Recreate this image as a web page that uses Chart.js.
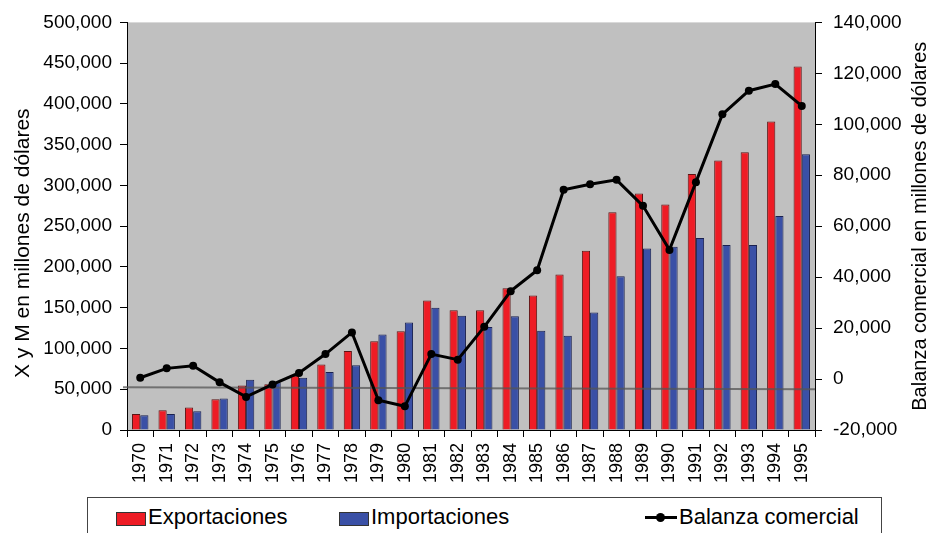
<!DOCTYPE html>
<html>
<head>
<meta charset="utf-8">
<script src="https://cdn.jsdelivr.net/npm/chart.js@4"></script>
<style>
  html, body { margin: 0; padding: 0; background: #fff; overflow: hidden; }
  #wrap { position: relative; width: 931px; height: 533px; }
  #legend {
    position: absolute; left: 87px; top: 497px; width: 795px; height: 60px;
    border: 1px solid #444; background: #fff; box-sizing: border-box;
    font-family: "Liberation Sans", Arial, sans-serif; font-size: 22px; color: #000;
  }
  .item { position: absolute; top: 7px; line-height: 24px; white-space: nowrap; }
  .sw { position: absolute; width: 28px; height: 12px; border: 1px solid #333; }
  .ln { position: absolute; width: 32px; height: 3px; background: #000; }
  .dot { position: absolute; width: 9px; height: 9px; border-radius: 50%; background: #000; }
</style>
</head>
<body>
<div id="wrap">
  <canvas id="chart" width="931" height="533"></canvas>
  <div id="legend">
    <div class="sw" style="left:28px;top:14px;background:#ee1c25;"></div>
    <div class="item" style="left:60px;">Exportaciones</div>
    <div class="sw" style="left:251px;top:14px;background:#3a50a6;"></div>
    <div class="item" style="left:283px;">Importaciones</div>
    <div class="ln" style="left:557px;top:18px;"></div>
    <div class="dot" style="left:568px;top:15px;"></div>
    <div class="item" style="left:591px;">Balanza comercial</div>
  </div>
</div>
<script>
// Mexican foreign trade, millions of US dollars
const years = ['1970','1971','1972','1973','1974','1975','1976','1977','1978','1979','1980','1981','1982',
               '1983','1984','1985','1986','1987','1988','1989','1990','1991','1992','1993','1994','1995'];

const exportaciones = [19500, 24300, 27600, 37700, 54700, 56000, 66500, 80500, 97000, 109000, 121000, 159000, 147000,
                       147000, 174000, 165000, 190600, 220000, 267000, 290000, 276500, 314000, 330500, 340600, 378500, 446000];

const importaciones = [18200, 19500, 23000, 38500, 61700, 58500, 64000, 71000, 79500, 117000, 132000, 150000, 140000,
                       126500, 139500, 121600, 115600, 144000, 188500, 222600, 224700, 235600, 227000, 227000, 262400, 338400];

const balanza = [500, 4200, 5200, -1300, -7000, -2100, 2400, 9800, 18300, -8300, -10700, 9800, 7600,
                 20500, 34500, 42700, 74300, 76500, 78200, 68000, 50700, 77300, 103900, 113200, 115800, 107200];

// thin grey guide line across the plot (left-axis values at its two ends)
const guideLine = [52500, 50000];

const leftTicks = { min: 0, max: 500000, step: 50000 };
const rightTicks = { min: -20000, max: 140000, step: 20000 };

const FONT = '"Liberation Sans", Arial, sans-serif';
const fmt = v => Number(v).toLocaleString('en-US');

const plotBackground = {
  id: 'plotBackground',
  beforeDraw(chart) {
    const { ctx, chartArea: a } = chart;
    ctx.save();
    ctx.fillStyle = '#c0c0c0';
    ctx.fillRect(a.left, a.top, a.right - a.left, a.bottom - a.top);
    ctx.restore();
  }
};

const guide = {
  id: 'guide',
  beforeDatasetDraw(chart, args) {
    if (args.index !== 2) return;
    const { ctx, chartArea: a, scales } = chart;
    ctx.save();
    ctx.strokeStyle = 'rgba(85,85,85,0.75)';
    ctx.lineWidth = 2;
    ctx.beginPath();
    ctx.moveTo(a.left - 4, scales.y.getPixelForValue(guideLine[0]));
    ctx.lineTo(a.right, scales.y.getPixelForValue(guideLine[1]));
    ctx.stroke();
    ctx.restore();
  }
};

const axisTitles = {
  id: 'axisTitles',
  afterDraw(chart) {
    const { ctx, chartArea: a } = chart;
    const mid = (a.top + a.bottom) / 2;
    ctx.save();
    ctx.fillStyle = '#000';
    ctx.textAlign = 'center';
    ctx.textBaseline = 'middle';
    ctx.font = '21px ' + FONT;
    ctx.translate(23, mid + 17);
    ctx.rotate(-Math.PI / 2);
    ctx.fillText('X y M en millones de dólares', 0, 0);
    ctx.restore();
    ctx.save();
    ctx.fillStyle = '#000';
    ctx.textAlign = 'center';
    ctx.textBaseline = 'middle';
    ctx.font = '20px ' + FONT;
    ctx.translate(920, mid);
    ctx.rotate(-Math.PI / 2);
    ctx.fillText('Balanza comercial en millones de dólares', 0, 0);
    ctx.restore();
  }
};

new Chart(document.getElementById('chart'), {
  type: 'bar',
  data: {
    labels: years,
    datasets: [
      { label: 'Exportaciones', data: exportaciones, backgroundColor: '#ee1c25', borderColor: '#5c1414',
        borderWidth: 1, yAxisID: 'y', order: 2, categoryPercentage: 0.62, barPercentage: 1.0 },
      { label: 'Importaciones', data: importaciones, backgroundColor: '#3a50a6', borderColor: '#1a2150',
        borderWidth: 1, yAxisID: 'y', order: 2, categoryPercentage: 0.62, barPercentage: 1.0 },
      { type: 'line', label: 'Balanza comercial', data: balanza, yAxisID: 'y2', order: 0,
        borderColor: '#000', borderWidth: 3, pointRadius: 4, pointBackgroundColor: '#000',
        pointBorderColor: '#000', pointBorderWidth: 0, tension: 0 }
    ]
  },
  options: {
    responsive: false,
    animation: false,
    devicePixelRatio: 1,
    layout: { padding: { top: 19, left: 0, right: 0, bottom: 0 } },
    plugins: { legend: { display: false }, tooltip: { enabled: false } },
    scales: {
      x: {
        grid: { drawOnChartArea: false, color: '#000', tickLength: 7, offset: true },
        border: { color: '#000', width: 1 },
        ticks: { color: '#000', font: { family: FONT, size: 18 }, minRotation: 90, maxRotation: 90, padding: 6, autoSkip: false },
        afterFit(s) { s.height = 103; }
      },
      y: {
        position: 'left', min: leftTicks.min, max: leftTicks.max,
        grid: { drawOnChartArea: false, color: '#000', tickLength: 7 },
        border: { color: '#000', width: 1 },
        ticks: { stepSize: leftTicks.step, color: '#000', font: { family: FONT, size: 19 }, padding: 8, callback: fmt },
        afterFit(s) { s.width = 127; }
      },
      y2: {
        position: 'right', min: rightTicks.min, max: rightTicks.max,
        grid: { drawOnChartArea: false, color: '#000', tickLength: 7 },
        border: { color: '#000', width: 1 },
        ticks: { stepSize: rightTicks.step, color: '#000', font: { family: FONT, size: 19 }, padding: 11, callback: fmt },
        afterFit(s) { s.width = 116; }
      }
    }
  },
  plugins: [plotBackground, guide, axisTitles]
});
</script>
</body>
</html>
